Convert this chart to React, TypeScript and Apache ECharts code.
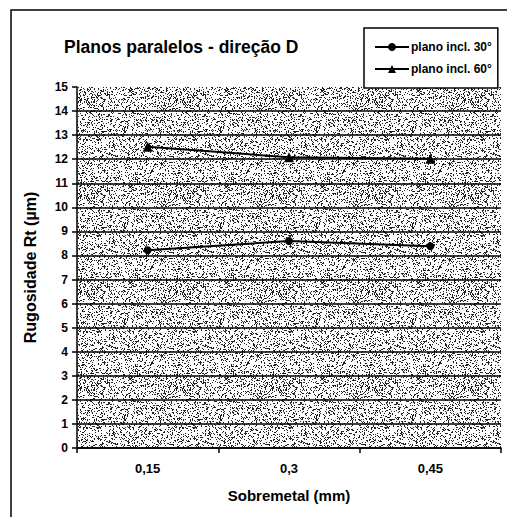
import React, { useEffect, useRef } from "react";
import * as echarts from "echarts";

const categories = ["0,15", "0,3", "0,45"];
const series30 = [8.22, 8.6, 8.38];
const series60 = [12.52, 12.08, 12.02];
const seriesNames = ["plano incl. 30°", "plano incl. 60°"];
const titleText = "Planos paralelos - direção D";
const xName = "Sobremetal (mm)";
const yName = "Rugosidade Rt (µm)";

const FONT = "'Liberation Sans', Arial, Helvetica, sans-serif";

function makeStipple(): string {
  const size = 96;
  const c = document.createElement("canvas");
  c.width = size;
  c.height = size;
  const ctx = c.getContext("2d")!;
  ctx.fillStyle = "#ffffff";
  ctx.fillRect(0, 0, size, size);
  ctx.fillStyle = "#222222";
  for (let y = 0; y < size; y++) {
    for (let x = 0; x < size; x++) {
      let h = (x * 374761393 + y * 668265263) | 0;
      h = Math.imul(h ^ (h >>> 13), 1274126177);
      h = (h ^ (h >>> 16)) >>> 0;
      if (h % 1000 < 220) ctx.fillRect(x, y, 1, 1);
    }
  }
  return c.toDataURL();
}

export default function App() {
  const ref = useRef<HTMLDivElement>(null);
  useEffect(() => {
    if (!ref.current) return;
    const chart = echarts.init(ref.current, undefined, { renderer: "svg" });
    const stipple = makeStipple();
    const splitColors: string[] = [];
    for (let i = 0; i < 16; i++) splitColors.push(i === 15 ? "transparent" : "#000");
    chart.setOption({
      animation: false,
      backgroundColor: "#ffffff",
      textStyle: { fontFamily: FONT, color: "#000" },
      title: {
        text: titleText,
        left: 59,
        top: 33,
        textStyle: { fontFamily: FONT, fontSize: 17.5, fontWeight: "bold", color: "#000" },
      },
      legend: {
        orient: "vertical",
        left: 364,
        top: 28,
        padding: [13, 6, 13, 10],
        itemGap: 10,
        itemWidth: 34,
        itemHeight: 10,
        backgroundColor: "#fff",
        borderColor: "#000",
        borderWidth: 1.5,
        borderRadius: 0,
        textStyle: { fontFamily: FONT, fontSize: 12, fontWeight: "bold", color: "#000", padding: [0, 0, 0, -3] },
        data: seriesNames,
      },
      grid: {
        left: 77,
        right: 6,
        top: 87,
        bottom: 69,
        show: true,
        borderWidth: 0,
        backgroundColor: { image: stipple, repeat: "repeat" },
      },
      xAxis: {
        type: "category",
        data: categories,
        boundaryGap: true,
        name: xName,
        nameLocation: "middle",
        nameGap: 40,
        nameTextStyle: { fontFamily: FONT, fontSize: 15, fontWeight: "bold", color: "#000" },
        axisLine: { lineStyle: { color: "#000", width: 1.5 } },
        axisTick: { show: true, length: 5, lineStyle: { color: "#000", width: 1.5 } },
        axisLabel: { fontFamily: FONT, fontSize: 13, fontWeight: "bold", color: "#000", margin: 14 },
      },
      yAxis: {
        type: "value",
        min: 0,
        max: 15,
        interval: 1,
        name: yName,
        nameLocation: "middle",
        nameGap: 39,
        nameTextStyle: { fontFamily: FONT, fontSize: 16, fontWeight: "bold", color: "#000" },
        axisLine: { show: true, lineStyle: { color: "#000", width: 1.5 } },
        axisTick: { show: true, length: 5, lineStyle: { color: "#000", width: 1.5 } },
        axisLabel: { fontFamily: FONT, fontSize: 12, fontWeight: "bold", color: "#000", margin: 9 },
        splitLine: { show: true, lineStyle: { color: splitColors, width: 1.6 } },
      },
      graphic: [
        {
          type: "rect",
          shape: { x: 11, y: 10, width: 700, height: 700 },
          style: { fill: "none", stroke: "#000", lineWidth: 1.5 },
          silent: true,
          z: 100,
        },
      ],
      series: [
        {
          name: seriesNames[0],
          type: "line",
          data: series30,
          symbol: "circle",
          symbolSize: 8,
          lineStyle: { color: "#000", width: 2 },
          itemStyle: { color: "#000" },
          z: 5,
        },
        {
          name: seriesNames[1],
          type: "line",
          data: series60,
          symbol: "triangle",
          symbolSize: 10,
          lineStyle: { color: "#000", width: 2 },
          itemStyle: { color: "#000" },
          z: 5,
        },
      ],
    });
    return () => chart.dispose();
  }, []);
  return (
    <div
      ref={ref}
      style={{ position: "fixed", left: 0, top: 0, width: 507, height: 517 }}
    />
  );
}
